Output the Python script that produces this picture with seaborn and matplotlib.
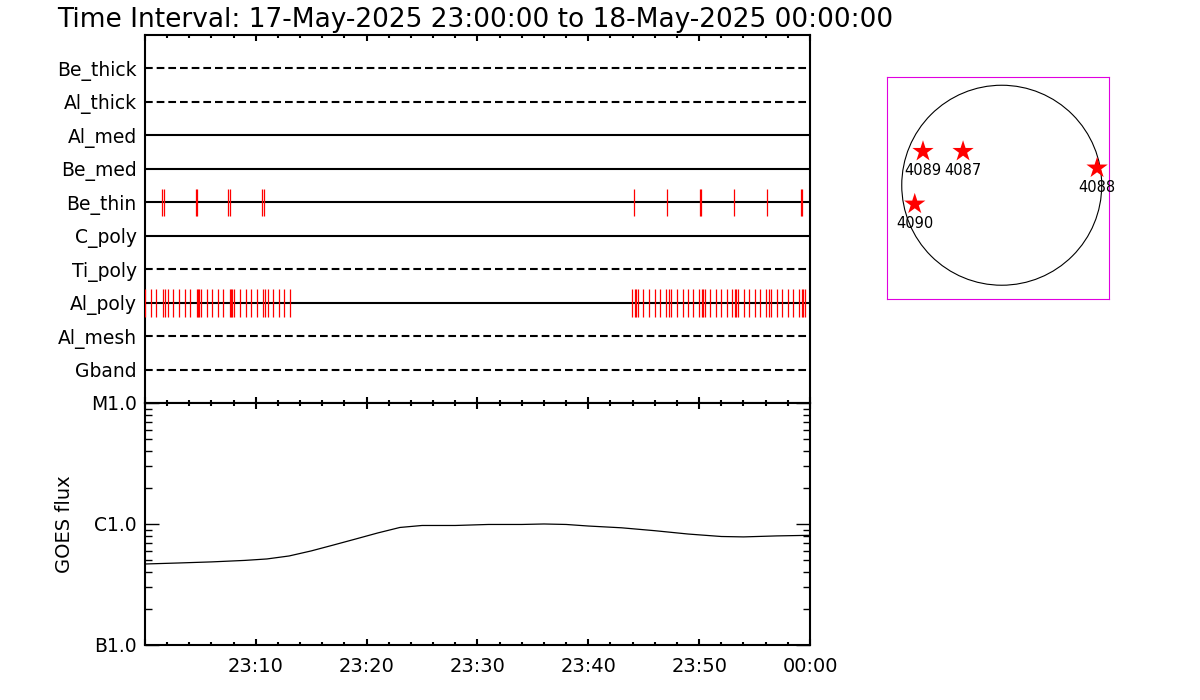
import matplotlib
matplotlib.use("Agg")
import matplotlib.pyplot as plt
from matplotlib.ticker import MultipleLocator, FuncFormatter, LogLocator, NullFormatter
import numpy as np
import pandas as pd
import seaborn as sns

title = "Time Interval: 17-May-2025 23:00:00 to 18-May-2025 00:00:00"

# filter rows, top to bottom
filters = ["Be_thick", "Al_thick", "Al_med", "Be_med", "Be_thin",
           "C_poly", "Ti_poly", "Al_poly", "Al_mesh", "Gband"]
filter_style = ["dashed", "dashed", "solid", "solid", "solid",
                "solid", "dashed", "solid", "dashed", "dashed"]

# exposure times (minutes after 23:00)
be_thin_times = [1.53, 1.71, 4.56, 4.74, 7.53, 7.71, 10.6, 10.7,
                 44.15, 47.13, 50.1, 50.2, 53.17, 56.15, 59.15, 59.25]
al_poly_times = [0.03, 0.51, 1.02, 1.65, 1.80, 2.10, 2.55, 3.09, 3.64, 4.09,
                 4.66, 4.81, 4.90, 5.08, 5.62, 6.07, 6.61, 7.06, 7.64, 7.79,
                 7.88, 8.06, 8.60, 9.11, 9.59, 10.13, 10.67, 10.83, 11.12,
                 11.58, 12.12, 12.57, 13.11,
                 43.97, 44.21, 44.30, 44.51, 44.96, 45.50, 46.02, 46.49, 47.03,
                 47.28, 47.46, 48.00, 48.52, 49.02, 49.47, 49.99, 50.28, 50.37,
                 50.56, 51.01, 51.52, 52.00, 52.54, 52.99, 53.24, 53.36, 53.54,
                 54.02, 54.53, 55.04, 55.49, 56.03, 56.30, 56.51, 57.02, 57.50,
                 58.01, 58.49, 59.04, 59.28, 59.37, 59.55]

# GOES 1-8 A flux
goes_minutes = [0, 3, 6, 9, 11, 13, 15, 17, 19, 21, 23, 25, 28, 31, 34, 36,
                38, 40, 43, 46, 49, 52, 54, 57, 60]
goes_flux = [4.67e-7, 4.76e-7, 4.86e-7, 5.0e-7, 5.14e-7, 5.44e-7, 5.99e-7,
             6.70e-7, 7.51e-7, 8.43e-7, 9.36e-7, 9.72e-7, 9.72e-7, 9.91e-7,
             9.91e-7, 1.0e-6, 9.91e-7, 9.62e-7, 9.3e-7, 8.8e-7, 8.26e-7,
             7.88e-7, 7.82e-7, 7.97e-7, 8.06e-7]
goes_ticks = [1e-7, 1e-6, 1e-5]
goes_labels = ["B1.0", "C1.0", "M1.0"]

# active regions on the disk (arcsec)
ar_numbers = ["4089", "4087", "4088", "4090"]
ar_x = [-745, -366, 902, -823]
ar_y = [320, 320, 163, -178]
sun_radius = 946

sns.set_style("white")
plt.rcParams["font.family"] = ["DejaVu Sans"]
plt.rcParams["axes.linewidth"] = 1.5
plt.rcParams["text.color"] = "black"
plt.rcParams["axes.labelcolor"] = "black"
plt.rcParams["xtick.color"] = "black"
plt.rcParams["ytick.color"] = "black"

fig = plt.figure(figsize=(12, 7), dpi=100)
ax_top = fig.add_axes([0.1208, 0.4243, 0.5542, 0.5257])
ax_goes = fig.add_axes([0.1208, 0.0786, 0.5542, 0.3457], sharex=ax_top)
ax_sun = fig.add_axes([0.7392, 0.5729, 0.185, 0.3171])

fig.text(0.048, 0.972, title, ha="left", va="center", fontsize=19)

# --- filter timeline ---
row_y = [len(filters) - i for i in range(len(filters))]
for y, style in zip(row_y, filter_style):
    ln, = ax_top.plot([0, 60], [y, y], color="black", lw=1.5, zorder=2)
    if style == "dashed":
        ln.set_dashes((3.7, 1.9))

y_be = row_y[filters.index("Be_thin")]
y_al = row_y[filters.index("Al_poly")]
ax_top.vlines(be_thin_times, y_be - 0.4, y_be + 0.4, color="red", lw=0.9, zorder=3)
ax_top.vlines(al_poly_times, y_al - 0.42, y_al + 0.42, color="red", lw=0.9, zorder=3)

ax_top.set_xlim(0, 60)
ax_top.set_ylim(0, 11)
ax_top.set_yticks(row_y, filters, fontsize=13.5)
ax_top.tick_params(axis="y", length=0, pad=6)
ax_top.tick_params(axis="x", which="both", direction="in", top=True, bottom=True,
                   labelbottom=False, labeltop=False)
ax_top.tick_params(axis="x", which="major", length=4.5, width=1.5)
ax_top.tick_params(axis="x", which="minor", length=2, width=1.5)
ax_top.xaxis.set_major_locator(MultipleLocator(10))
ax_top.xaxis.set_minor_locator(MultipleLocator(2))
for s in ax_top.spines.values():
    s.set_color("black")

# --- GOES flux ---
goes_df = pd.DataFrame({"minute": goes_minutes, "flux": goes_flux})
sns.lineplot(data=goes_df, x="minute", y="flux", ax=ax_goes, color="black",
             lw=0.9, sort=False)
ax_goes.set_yscale("log")
ax_goes.set_ylim(1e-7, 1e-5)
ax_goes.set_yticks(goes_ticks, goes_labels, fontsize=13.5)
ax_goes.yaxis.set_minor_locator(LogLocator(base=10, subs=np.arange(2, 10)))
ax_goes.yaxis.set_minor_formatter(NullFormatter())
ax_goes.tick_params(axis="y", which="both", direction="in", left=True, right=True, pad=6)
ax_goes.tick_params(axis="y", which="major", length=10, width=1)
ax_goes.tick_params(axis="y", which="minor", length=5, width=1)

ax_goes.set_xlim(0, 60)
ax_goes.xaxis.set_major_locator(MultipleLocator(10))
ax_goes.xaxis.set_minor_locator(MultipleLocator(2))
ax_goes.xaxis.set_major_formatter(FuncFormatter(
    lambda v, p: "" if v <= 0 else "%02d:%02d" % ((23 + int(v) // 60) % 24, int(v) % 60)))
ax_goes.tick_params(axis="x", which="both", direction="in", top=True, bottom=True,
                    labelsize=14, pad=9)
ax_goes.tick_params(axis="x", which="major", length=4.5, width=1.5)
ax_goes.tick_params(axis="x", which="minor", length=2, width=1.5)
ax_goes.set_xlabel("")
ax_goes.set_ylabel("GOES flux", fontsize=14)
ax_goes.yaxis.set_label_coords(-0.107, 0.5)
for s in ax_goes.spines.values():
    s.set_color("black")

# --- solar disk ---
ax_sun.add_patch(plt.Circle((0, 0), sun_radius, fill=False, color="black", lw=0.8))
sns.scatterplot(x=ar_x, y=ar_y, ax=ax_sun, marker="*", s=260, color="red",
                edgecolor="none", zorder=3)
for num, x, y in zip(ar_numbers, ar_x, ar_y):
    ax_sun.annotate(num, (x, y), xytext=(0, -14), textcoords="offset points",
                    ha="center", va="center", fontsize=10.5)
ax_sun.set_xlim(-1085, 1015)
ax_sun.set_ylim(-1076, 1024)
ax_sun.set_aspect("equal", adjustable="box")
ax_sun.set_xticks([])
ax_sun.set_yticks([])
for s in ax_sun.spines.values():
    s.set_color("#e000e0")
    s.set_linewidth(0.8)

fig.savefig("out.png", dpi=100)
